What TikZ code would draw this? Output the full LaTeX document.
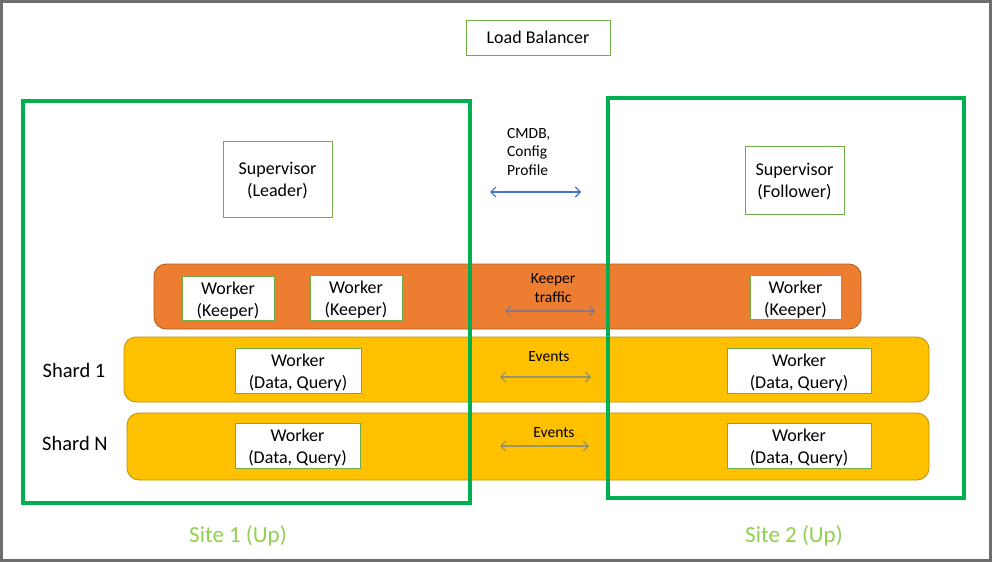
\documentclass[tikz,border=0pt]{standalone}
\usepackage{fontspec}
\setmainfont{Carlito}
\usetikzlibrary{arrows.meta}
\definecolor{sitegreen}{HTML}{00B050}
\definecolor{boxgreen}{HTML}{70AD47}
\definecolor{sitelabel}{HTML}{92D050}
\definecolor{orangefill}{HTML}{ED7D31}
\definecolor{orangeedge}{HTML}{AE5A21}
\definecolor{yellowfill}{HTML}{FFC000}
\definecolor{yellowedge}{HTML}{BF9000}
\definecolor{arrowblue}{HTML}{4472C4}
\definecolor{frame}{HTML}{6E6E6E}
\tikzset{
  wbox/.style={draw=boxgreen, line width=0.8pt, fill=white, align=center, inner sep=0pt, font=\fontsize{18}{22}\selectfont},
  twoline/.style={wbox, text height=40pt, text depth=4.5pt},
  band/.style={rounded corners=12pt, line width=0.8pt},
  site/.style={draw=sitegreen, line width=3.5pt},
  small/.style={align=center, font=\fontsize{15.5}{18.5}\selectfont, inner sep=0pt},
  twoway/.style={{Straight Barb[length=5pt,width=10pt]}-{Straight Barb[length=5pt,width=10pt]}, line width=1.1pt, draw=arrowblue},
  faded/.style={draw opacity=0.55},
  shardlabel/.style={font=\fontsize{20.5}{24}\selectfont, inner sep=0pt},
  sitetext/.style={font=\fontsize{23}{26}\selectfont, text=sitelabel, inner sep=0pt}
}
\begin{document}
\begin{tikzpicture}[x=1pt,y=-1pt]
\useasboundingbox (0,0) rectangle (992,562);
\fill[white] (0,0) rectangle (992,562);
\draw[frame, line width=2.6pt] (1.3,1.3) rectangle (990.2,560.2);

% Load balancer
\node[wbox, minimum width=144pt, minimum height=35pt] (lb) at (538,37.5) {Load Balancer};

% Supervisors
\node[twoline, minimum width=109pt, minimum height=76pt] (supL) at (277.5,179) {Supervisor\\(Leader)};
\node[twoline, minimum width=99pt, minimum height=68pt] (supF) at (794.5,180) {Supervisor\\(Follower)};

% CMDB label and arrow
\node[small, align=left, anchor=north west] (cmdb) at (507,128) {CMDB,\\Config\\Profile};
\coordinate (cmdbL) at (490,192);
\coordinate (cmdbR) at (581,192);
\draw[twoway] (cmdbL) -- (cmdbR);

% Orange keeper band
\draw[band, fill=orangefill, draw=orangeedge] (154,264) rectangle (861,329);
\node[twoline, minimum width=92pt, minimum height=43pt] (k1) at (228,298.5) {Worker\\(Keeper)};
\node[twoline, minimum width=92pt, minimum height=42pt] (k2) at (356,298) {Worker\\(Keeper)};
\node[twoline, minimum width=91pt, minimum height=43pt] (k3) at (795.5,297.5) {Worker\\(Keeper)};
\node[small] (kt) at (553,288) {Keeper\\traffic};
\coordinate (ktL) at (505,311);
\coordinate (ktR) at (595,311);
\draw[twoway, faded] (ktL) -- (ktR);

% Shard 1 band
\draw[band, fill=yellowfill, draw=yellowedge] (124,337) rectangle (929,402);
\node[twoline, minimum width=126pt, minimum height=42pt] (d1) at (298,371) {Worker\\(Data, Query)};
\node[twoline, minimum width=144pt, minimum height=42pt] (d2) at (799,371) {Worker\\(Data, Query)};
\node[small] (ev1) at (549,357) {Events};
\coordinate (ev1L) at (500,377);
\coordinate (ev1R) at (591,377);
\draw[twoway, faded] (ev1L) -- (ev1R);

% Shard N band
\draw[band, fill=yellowfill, draw=yellowedge] (127,413) rectangle (929,480);
\node[twoline, minimum width=125pt, minimum height=42pt] (d3) at (297.5,446) {Worker\\(Data, Query)};
\node[twoline, minimum width=144pt, minimum height=42pt] (d4) at (799,446) {Worker\\(Data, Query)};
\node[small] (ev2) at (554,433) {Events};
\coordinate (ev2L) at (500,446);
\coordinate (ev2R) at (589,446);
\draw[twoway, faded] (ev2L) -- (ev2R);

% Shard labels
\node[shardlabel] (s1) at (74,370) {Shard 1};
\node[shardlabel] (sN) at (75,443) {Shard N};

% Sites
\draw[site] (23,101) rectangle (470,503);
\draw[site] (608,98) rectangle (964,498);
\node[sitetext] (site1) at (238,536) {Site 1 (Up)};
\node[sitetext] (site2) at (794,536) {Site 2 (Up)};
\end{tikzpicture}
\end{document}
